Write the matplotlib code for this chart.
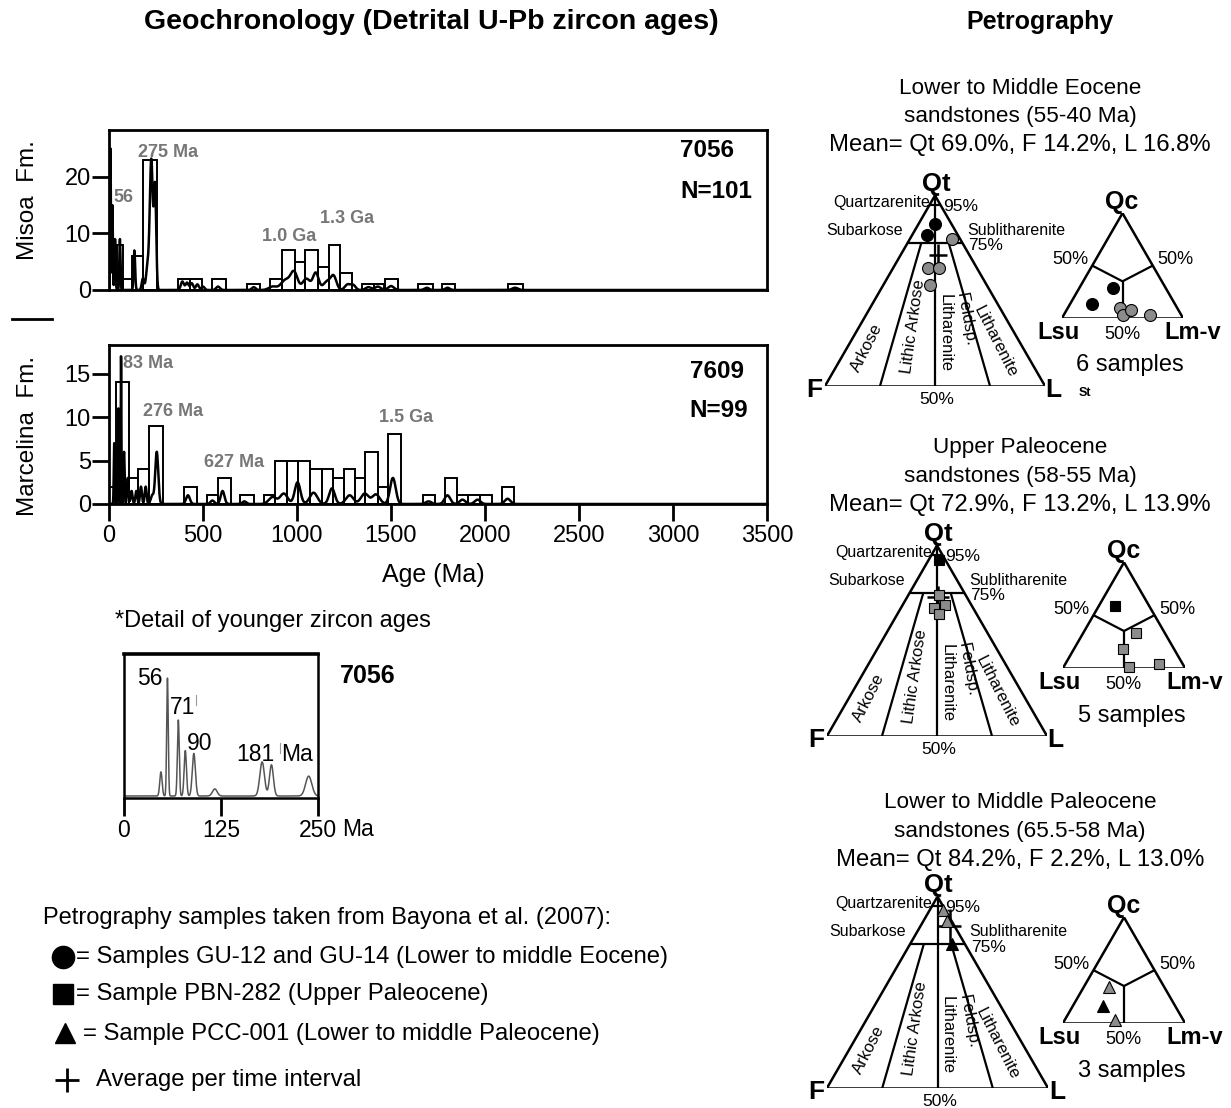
import numpy as np
import matplotlib
matplotlib.use('Agg')
import matplotlib.pyplot as plt

plt.rcParams['font.family'] = ['Liberation Sans', 'DejaVu Sans']

W, H = 1231, 1108

## ---- Misoa Fm. (7056): histogram bins (Ma) and counts
misoa_lo = [41, 76, 121, 183, 369, 431, 547, 733, 857, 920, 990, 1044, 1110, 1168,
            1230, 1346, 1408, 1470, 1644, 1771, 2122]
misoa_hi = [76, 121, 183, 254, 431, 493, 621, 804, 920, 990, 1044, 1110, 1168, 1230,
            1292, 1408, 1461, 1536, 1723, 1840, 2202]
misoa_n = [8, 2, 6, 23, 2, 2, 2, 1, 2, 7, 5, 7, 4, 8, 3, 1, 1, 2, 1, 1, 1]
## probability density peaks (age, height, spread)
misoa_pk_age = [8, 18, 32, 58, 135, 180, 205, 225, 245, 390, 415, 440, 470, 500, 580,
                770, 870, 940, 985, 1050, 1100, 1160, 1195, 1270, 1300, 1380, 1430,
                1500, 1690, 1800, 2160]
misoa_pk_h = [25, 15, 9, 9, 7, 2, 4, 23, 18, 1.5, 1.3, 1.2, 1.0, 0.6, 0.6, 0.5, 0.6,
              1.8, 3.0, 2.0, 3.0, 1.5, 2.3, 1.0, 0.8, 0.5, 0.6, 0.7, 0.4, 0.4, 0.4]
misoa_pk_w = [2, 2.5, 3, 3, 4, 6, 8, 8, 6, 8, 8, 8, 8, 8, 10, 10, 20, 25, 18, 20, 15,
              20, 15, 15, 12, 15, 15, 15, 12, 12, 15]

## ---- Marcelina Fm. (7609)
marc_lo = [0, 37, 107, 156, 215, 399, 520, 582, 698, 822, 884, 946, 1003, 1070, 1133,
           1191, 1248, 1310, 1363, 1431, 1484, 1672, 1788, 1851, 1912, 1975, 2090]
marc_hi = [37, 107, 156, 215, 286, 467, 582, 648, 769, 884, 946, 1003, 1070, 1133, 1191,
           1248, 1310, 1363, 1431, 1484, 1553, 1735, 1851, 1912, 1975, 2037, 2154]
marc_n = [2, 14, 3, 4, 9, 2, 1, 3, 1, 1, 5, 5, 5, 4, 4, 3, 4, 3, 6, 2, 8, 1, 3, 1, 1, 1, 2]
marc_pk_age = [28, 50, 64, 80, 100, 120, 145, 170, 195, 230, 254, 420, 550, 604, 720,
               870, 930, 1003, 1088, 1186, 1280, 1360, 1420, 1510, 1700, 1800, 1880,
               1960, 2120]
marc_pk_h = [7, 11, 17, 6, 3, 1.5, 1.5, 2, 2, 1, 6, 1, 0.4, 1.5, 0.3, 0.8, 1.2, 2.5,
             1.3, 1.8, 1.0, 1.2, 1.1, 3.0, 0.3, 1.0, 0.5, 0.5, 0.6]
marc_pk_w = [2.5, 2.5, 1.5, 3, 4, 5, 5, 5, 5, 8, 8, 10, 10, 10, 10, 20, 20, 15, 20, 15,
             20, 20, 20, 15, 15, 15, 15, 15, 15]

## ---- detail of younger ages (7056), relative probability
young_pk_age = [47.6, 56, 70, 79, 90, 117, 178, 190, 238]
young_pk_h = [0.17, 0.83, 0.535, 0.32, 0.30, 0.05, 0.24, 0.22, 0.14]
young_pk_w = [1.5, 1.0, 1.2, 1.5, 2.0, 3.0, 3.0, 2.5, 4.0]

## ---- petrography (percent): QtFL = (Qt, F, L), QcLsuLmv = (Qc, Lsu, Lm-v)
eo_qtfl_black = [(85, 7.5, 7.5), (79, 14, 7)]
eo_qtfl_gray = [(77, 4, 19), (62, 22, 16), (62, 17, 21), (53, 26, 21)]
eo_mean = (69.0, 14.2, 16.8)
eo_err = (5.3, 4.2)
eo_qc_black = [(29, 43, 28), (13, 69, 18)]
eo_qc_gray = [(10, 47, 43), (3, 48, 49), (8, 39, 53), (2.5, 26, 71.5)]

up_qtfl_black = [(92.5, 3, 4.5)]
up_qtfl_gray = [(67, 18, 15), (69, 12, 19), (64, 17, 19), (74, 12, 14)]
up_mean = (72.9, 13.2, 13.9)
up_err = (6.0, 5.0)
up_qc_black = [(59, 28, 13)]
up_qc_gray = [(33, 24, 43), (18, 42, 40), (1, 45, 54), (4, 19, 77)]

lp_qtfl_black = [(75, 6, 19)]
lp_qtfl_gray = [(93, 1, 6), (87, 2, 11)]
lp_mean = (84.2, 2.2, 13.0)
lp_err = (9.0, 5.0)
lp_qc_black = [(16, 59, 25)]
lp_qc_gray = [(34, 45, 21), (3, 56, 41)]

GRAY_TXT = '#777777'
GRAY_PT = '#8c8c8c'
SQ3 = np.sqrt(3) / 2


def box(left, top, right, bottom):
    return [left / W, 1 - bottom / H, (right - left) / W, (bottom - top) / H]


def pdf_curve(x, ages, hs, ws):
    y = np.zeros_like(x)
    for a, h, w in zip(ages, hs, ws):
        y += h * np.exp(-0.5 * ((x - a) / w) ** 2)
    return y


def draw_hist(ax, lo, hi, n, pk_a, pk_h, pk_w, ymax, yticks):
    lo = np.array(lo, float)
    hi = np.array(hi, float)
    ax.bar(lo, n, width=hi - lo, align='edge', fill=False, edgecolor='black',
           linewidth=1.4, zorder=2)
    age = np.linspace(0, 3500, 7001)
    ax.plot(age, pdf_curve(age, pk_a, pk_h, pk_w), color='black', lw=1.8, zorder=3)
    ax.set_xlim(0, 3500)
    ax.set_ylim(0, ymax)
    ax.set_yticks(yticks)
    for s in ax.spines.values():
        s.set_linewidth(2)
    ax.tick_params(axis='y', direction='out', length=12, width=2, labelsize=17, pad=1)


def txy(p):
    top, left, right = p
    s = float(top + left + right)
    t, r = top / s, right / s
    return r + t / 2, t * SQ3


def tern_ax(left, base, width):
    ax = fig.add_axes(box(left, base - width * SQ3, left + width, base))
    ax.set_xlim(0, 1)
    ax.set_ylim(0, SQ3)
    ax.axis('off')
    return ax


def pts(ax, comps, marker, ms, color):
    if not comps:
        return
    xy = np.array([txy(c) for c in comps])
    ax.plot(xy[:, 0], xy[:, 1], marker, ms=ms, mfc=color, mec='black', mew=0.8,
            ls='none', clip_on=False, zorder=4)


def seg(ax, a, b, lw=1.6):
    (x0, y0), (x1, y1) = txy(a), txy(b)
    ax.plot([x0, x1], [y0, y1], color='black', lw=lw, solid_capstyle='butt')


def draw_qtfl(ax, black, gray, mean, err, marker, ms, st=False):
    seg(ax, (100, 0, 0), (0, 100, 0), 1.8)
    seg(ax, (0, 100, 0), (0, 0, 100), 1.8)
    seg(ax, (0, 0, 100), (100, 0, 0), 1.8)
    seg(ax, (95, 5, 0), (95, 0, 5))
    seg(ax, (75, 25, 0), (75, 0, 25))
    seg(ax, (100, 0, 0), (0, 50, 50))
    seg(ax, (75, 18.75, 6.25), (0, 75, 25))
    seg(ax, (75, 6.25, 18.75), (0, 25, 75))
    ax.text(0.505, 0.92, 'Qt', ha='center', va='center', fontsize=18.5, fontweight='bold')
    ax.text(0.477, 0.834, 'Quartzarenite', ha='right', va='center', fontsize=11.5)
    ax.text(0.536, 0.816, '95%', ha='left', va='center', fontsize=12.5)
    ax.text(0.355, 0.706, 'Subarkose', ha='right', va='center', fontsize=11.5)
    ax.text(0.645, 0.706, 'Sublitharenite', ha='left', va='center', fontsize=11.5)
    ax.text(0.65, 0.638, '75%', ha='left', va='center', fontsize=12.5)
    ax.text(0.51, -0.06, '50%', ha='center', va='center', fontsize=12.5)
    ax.text(-0.05, -0.02, 'F', ha='center', va='center', fontsize=19, fontweight='bold')
    ax.text(1.04, -0.02, 'L', ha='center', va='center', fontsize=19, fontweight='bold')
    if st:
        ax.text(1.18, -0.03, 'St', ha='center', va='center', fontsize=9, fontweight='bold')
    kw = dict(ha='center', va='center', fontsize=12, rotation_mode='anchor')
    ax.text(0.19, 0.175, 'Arkose', rotation=63, **kw)
    ax.text(0.40, 0.27, 'Lithic Arkose', rotation=82, **kw)
    ax.text(0.545, 0.24, 'Litharenite', rotation=-90, **kw)
    ax.text(0.64, 0.30, 'Feldsp.', rotation=-80, **kw)
    ax.text(0.773, 0.20, 'Litharenite', rotation=-63, **kw)
    pts(ax, gray, marker, ms, GRAY_PT)
    pts(ax, black, marker, ms, 'black')
    # average cross: Qt spread (vertical) and L spread (horizontal)
    qt, f, l = mean
    eq, el = err
    seg(ax, (qt + eq, f - eq / 2, l - eq / 2), (qt - eq, f + eq / 2, l + eq / 2), 1.8)
    seg(ax, (qt, f + el, l - el), (qt, f - el, l + el), 1.8)


def draw_qc(ax, black, gray, marker, ms, label):
    seg(ax, (100, 0, 0), (0, 100, 0), 1.8)
    seg(ax, (0, 100, 0), (0, 0, 100), 1.8)
    seg(ax, (0, 0, 100), (100, 0, 0), 1.8)
    junction = (35, 32.5, 32.5)
    seg(ax, (50, 50, 0), junction)
    seg(ax, (50, 0, 50), junction)
    seg(ax, junction, (0, 50, 50))
    ax.text(0.496, 0.96, 'Qc', ha='center', va='center', fontsize=18, fontweight='bold')
    ax.text(-0.03, -0.12, 'Lsu', ha='center', va='center', fontsize=17, fontweight='bold')
    ax.text(1.08, -0.12, 'Lm-v', ha='center', va='center', fontsize=17, fontweight='bold')
    ax.text(0.496, -0.135, '50%', ha='center', va='center', fontsize=13)
    ax.text(0.215, 0.48, '50%', ha='right', va='center', fontsize=13)
    ax.text(0.79, 0.48, '50%', ha='left', va='center', fontsize=13)
    ax.text(0.56, -0.39, label, ha='center', va='center', fontsize=17)
    pts(ax, gray, marker, ms, GRAY_PT)
    pts(ax, black, marker, ms, 'black')


fig = plt.figure(figsize=(W / 100, H / 100), dpi=100)

## layout layer in pixel units (titles, side labels, legend keys)
lay = fig.add_axes([0, 0, 1, 1])
lay.set_xlim(0, W)
lay.set_ylim(H, 0)
lay.axis('off')

lay.text(431, 22, 'Geochronology (Detrital U-Pb zircon ages)', ha='center', va='center',
         fontsize=20.5, fontweight='bold')
lay.text(1040, 22, 'Petrography', ha='center', va='center', fontsize=18, fontweight='bold')
lay.text(28, 200, 'Misoa  Fm.', rotation=90, ha='center', va='center', fontsize=17.5)
lay.text(28, 436, 'Marcelina  Fm.', rotation=90, ha='center', va='center', fontsize=17.5)
lay.plot([12, 52], [319, 319], color='black', lw=2)
lay.text(433, 575, 'Age (Ma)', ha='center', va='center', fontsize=18)

lay.text(115, 621, '*Detail of younger zircon ages', ha='left', va='center', fontsize=17)
lay.text(340, 676, '7056', ha='left', va='center', fontsize=18, fontweight='bold')
lay.text(342, 830, 'Ma', ha='left', va='center', fontsize=16.5)

lay.text(43, 918, 'Petrography samples taken from Bayona et al. (2007):', ha='left',
         va='center', fontsize=17)
lay.plot(63, 957, 'o', ms=16, color='black')
lay.text(76, 957, '= Samples GU-12 and GU-14 (Lower to middle Eocene)', ha='left',
         va='center', fontsize=17.2)
lay.plot(63, 994, 's', ms=14, color='black')
lay.text(76, 994, '= Sample PBN-282 (Upper Paleocene)', ha='left', va='center',
         fontsize=17.2)
lay.plot(65, 1033, '^', ms=15, color='black')
lay.text(83, 1034, '= Sample PCC-001 (Lower to middle Paleocene)', ha='left',
         va='center', fontsize=17.2)
lay.plot(67, 1080, '+', ms=17, mew=2, color='black')
lay.text(96, 1080, 'Average per time interval', ha='left', va='center', fontsize=17.2)

blocks = [
    (88, ['Lower to Middle Eocene', 'sandstones (55-40 Ma)',
          'Mean= Qt 69.0%, F 14.2%, L 16.8%']),
    (448, ['Upper Paleocene', 'sandstones (58-55 Ma)',
           'Mean= Qt 72.9%, F 13.2%, L 13.9%']),
    (803, ['Lower to Middle Paleocene', 'sandstones (65.5-58 Ma)',
           'Mean= Qt 84.2%, F 2.2%, L 13.0%']),
]
for y0, lines in blocks:
    for k, s in enumerate(lines):
        lay.text(1020, y0 + k * 28.5, s, ha='center', va='center',
                 fontsize=17.2 if k == 2 else 16.2)

## ---- Misoa histogram
ax1 = fig.add_axes(box(109, 130, 767, 290))
draw_hist(ax1, misoa_lo, misoa_hi, misoa_n, misoa_pk_age, misoa_pk_h, misoa_pk_w,
          28.3, [0, 10, 20])
ax1.set_xticks([])
gk = dict(color=GRAY_TXT, fontsize=13, fontweight='bold', ha='left', va='center')
ax1.text(21, 16.3, '56', **gk)
ax1.text(154, 24.4, '275 Ma', **gk)
ax1.text(814, 9.4, '1.0 Ga', **gk)
ax1.text(1122, 12.6, '1.3 Ga', **gk)
ax1.text(3037, 24.6, '7056', fontsize=17.5, fontweight='bold', ha='left', va='center')
ax1.text(3037, 17.5, 'N=101', fontsize=17.5, fontweight='bold', ha='left', va='center')

## ---- Marcelina histogram
ax2 = fig.add_axes(box(109, 345, 767, 504))
draw_hist(ax2, marc_lo, marc_hi, marc_n, marc_pk_age, marc_pk_h, marc_pk_w,
          18.3, [0, 5, 10, 15])
ax2.set_xticks(np.arange(0, 3501, 500))
ax2.tick_params(axis='x', direction='out', length=12, width=2, labelsize=17, pad=3)
ax2.text(74, 16.2, '83 Ma', **gk)
ax2.text(181, 10.6, '276 Ma', **gk)
ax2.text(505, 4.8, '627 Ma', **gk)
ax2.text(1436, 10.0, '1.5 Ga', **gk)
ax2.text(3090, 15.2, '7609', fontsize=17.5, fontweight='bold', ha='left', va='center')
ax2.text(3088, 10.8, 'N=99', fontsize=17.5, fontweight='bold', ha='left', va='center')

## ---- inset: younger ages
ax3 = fig.add_axes(box(124, 654, 318, 798))
ya = np.linspace(0, 250, 2501)
ax3.plot(ya, pdf_curve(ya, young_pk_age, young_pk_h, young_pk_w), color='#555555', lw=1.1)
ax3.set_xlim(0, 250)
ax3.set_ylim(-0.014, 1.0)
ax3.set_yticks([])
ax3.set_xticks([0, 125, 250])
ax3.set_xticklabels(['0', '125', '250'])
for s in ax3.spines.values():
    s.set_linewidth(1.8)
ax3.spines['top'].set_linewidth(2.6)
ax3.tick_params(axis='x', direction='out', length=13, width=2, labelsize=16.5, pad=2)
ax3.text(33.5, 0.83, '56', ha='center', va='center', fontsize=16.5)
ax3.text(76, 0.62, '71', ha='center', va='center', fontsize=16.5)
ax3.text(98, 0.37, '90', ha='center', va='center', fontsize=16.5)
ax3.text(169, 0.29, '181', ha='center', va='center', fontsize=16.5)
ax3.text(223, 0.29, 'Ma', ha='center', va='center', fontsize=16.5)
ax3.plot([93, 93], [0.64, 0.71], color='#999999', lw=0.8)
ax3.plot([201, 201], [0.30, 0.37], color='#999999', lw=0.8)

## ---- ternary diagrams
t1 = tern_ax(825, 386, 220)
draw_qtfl(t1, eo_qtfl_black, eo_qtfl_gray, eo_mean, eo_err, 'o', 8.6, st=True)
q1 = tern_ax(1062, 318, 121)
draw_qc(q1, eo_qc_black, eo_qc_gray, 'o', 8.6, '6 samples')

t2 = tern_ax(827, 736, 220)
draw_qtfl(t2, up_qtfl_black, up_qtfl_gray, up_mean, up_err, 's', 7.2)
q2 = tern_ax(1063, 668, 122)
draw_qc(q2, up_qc_black, up_qc_gray, 's', 7.2, '5 samples')

t3 = tern_ax(827, 1088, 221)
draw_qtfl(t3, lp_qtfl_black, lp_qtfl_gray, lp_mean, lp_err, '^', 8.5)
q3 = tern_ax(1063, 1023, 122)
draw_qc(q3, lp_qc_black, lp_qc_gray, '^', 8.5, '3 samples')

fig.savefig('out.png', dpi=100)
